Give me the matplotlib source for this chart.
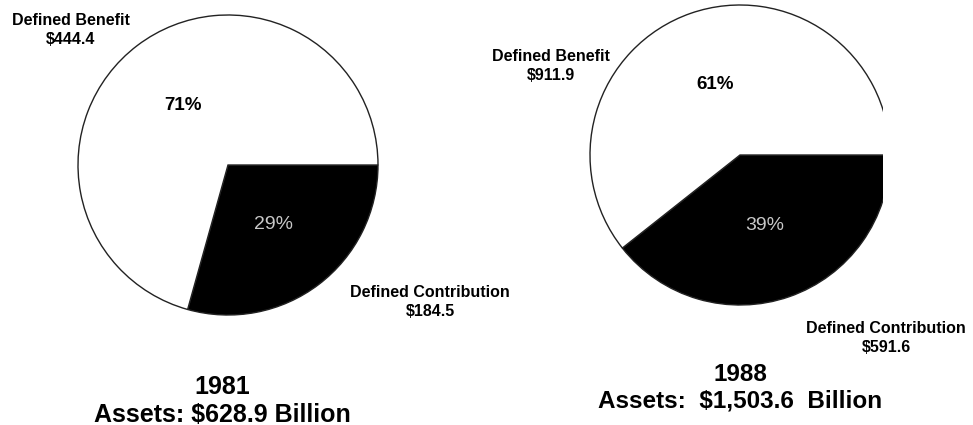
import matplotlib
matplotlib.use("Agg")
import matplotlib.pyplot as plt
from matplotlib.patches import Rectangle

plt.rcParams['font.family'] = ['Liberation Sans', 'DejaVu Sans']

# Data (billions of dollars)
years = ["1981", "1988"]
defined_benefit = [444.4, 911.9]
defined_contribution = [184.5, 591.6]
total_assets = ["$628.9", "$1,503.6"]

fig = plt.figure(figsize=(9.73, 4.25), dpi=100)
ax = fig.add_axes([0, 0, 1, 1])

centers = [(228, 165), (740, 155)]
radius = 150

pies = []
for i in range(2):
    wedges, texts, autotexts = ax.pie(
        [defined_contribution[i], defined_benefit[i]],
        colors=["black", "white"],
        startangle=0, counterclock=True,
        center=centers[i], radius=radius,
        autopct="%1.0f%%", pctdistance=0.5,
        wedgeprops=dict(edgecolor="#222222", linewidth=1.0),
    )
    # DC percentage: light text on black
    autotexts[0].set_color("#c8c8c8")
    autotexts[0].set_fontsize(14)
    autotexts[0].set_fontweight("normal")
    # DB percentage: bold black
    autotexts[1].set_color("black")
    autotexts[1].set_fontsize(13.5)
    autotexts[1].set_fontweight("bold")
    pies.append(wedges)

ax.set_xlim(0, 973)
ax.set_ylim(425, 0)
ax.set_axis_off()

# right pie is cut off at the right edge in the source
clip = Rectangle((0, 0), 883, 425)
for w in pies[1]:
    w.set_clip_on(True)
    w.set_clip_path(clip.get_path(), clip.get_patch_transform() + ax.transData)

lab = dict(fontsize=11.5, fontweight="bold", ha="center", va="center",
           multialignment="center", linespacing=1.35)
ax.text(71, 30, f"Defined Benefit\n${defined_benefit[0]:.1f}", **lab)
ax.text(551, 66, f"Defined Benefit\n${defined_benefit[1]:.1f}", **lab)
ax.text(430, 302, f"Defined Contribution\n${defined_contribution[0]:.1f}", **lab)
ax.text(886, 338, f"Defined Contribution\n${defined_contribution[1]:.1f}", **lab)

ttl = dict(fontweight="bold", ha="center", va="center",
           multialignment="center", linespacing=1.2)
ax.text(222, 401, f"{years[0]}\nAssets: {total_assets[0]} Billion", fontsize=18, **ttl)
ax.text(740, 388, f"{years[1]}\nAssets:  {total_assets[1]}  Billion", fontsize=17.5, **ttl)

fig.savefig("out.png", dpi=100)
